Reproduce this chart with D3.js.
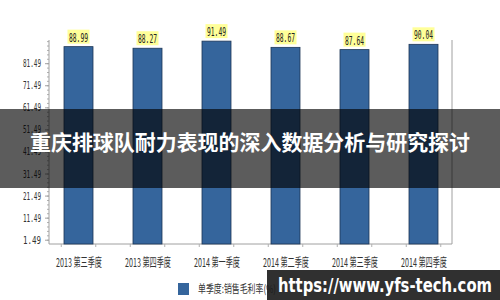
<!DOCTYPE html>
<html>
<head>
<meta charset="utf-8">
<script src="https://cdn.jsdelivr.net/npm/d3@7"></script>
<style>
  body { margin: 0; background: #fff; }
  svg { display: block; }
</style>
</head>
<body>
<div id="chart"></div>
<script>
// data
let quarters = ["2013 第三季度", "2013 第四季度", "2014 第一季度", "2014 第二季度", "2014 第三季度", "2014 第四季度"];
let margins = [88.99, 88.27, 91.49, 88.67, 87.64, 90.04];
let yTicks = [1.49, 11.49, 21.49, 31.49, 41.49, 51.49, 61.49, 71.49, 81.49];
let legendLabel = "单季度:销售毛利率(%)";
let title = "重庆排球队耐力表现的深入数据分析与研究探讨";
let watermark = "https://www.yfs-tech.com";

let svgWidth = 500;
let svgHeight = 300;

let svg = d3.select("#chart")
  .append("svg")
  .attr("width", svgWidth)
  .attr("height", svgHeight);

// scales
let x = d3.scalePoint()
  .domain(quarters)
  .range([44, 458])
  .padding(0.5);

let y = d3.scaleLinear()
  .domain([0, 92])
  .range([243, 40]);

let barWidth = 29;

// right border of plot
svg.append("line")
  .attr("x1", 452).attr("x2", 452)
  .attr("y1", 40).attr("y2", 244)
  .attr("stroke", "#a0a0a0");

// minor ticks on y axis
let yMinor = d3.axisLeft(y)
  .tickValues(d3.range(1.49, 92, 2))
  .tickSize(2)
  .tickFormat("");
svg.append("g")
  .attr("transform", "translate(49,0)")
  .call(yMinor)
  .call(g => g.select(".domain").remove())
  .selectAll("line").attr("stroke", "#b0b0b0");

let yAxis = d3.axisLeft(y)
  .tickValues(yTicks)
  .tickSize(4)
  .tickPadding(4)
  .tickFormat(d3.format(".2f"));

let yg = svg.append("g")
  .attr("transform", "translate(49,0)")
  .call(yAxis);
yg.select(".domain").attr("stroke", "#a0a0a0").attr("d", "M0,40V244");
yg.selectAll(".tick line").attr("stroke", "#a0a0a0");
yg.selectAll(".tick text")
  .attr("font-family", "'DejaVu Sans Mono', monospace")
  .attr("font-size", 11)
  .attr("fill", "#333")
  .attr("textLength", 18)
  .attr("lengthAdjust", "spacingAndGlyphs");

// bottom axis
let xAxis = d3.axisBottom(x)
  .tickSize(0)
  .tickPadding(14);

let xg = svg.append("g")
  .attr("transform", "translate(0,244)")
  .call(xAxis);
xg.select(".domain").attr("stroke", "#a0a0a0").attr("d", "M49,0H452");
xg.selectAll(".tick text")
  .attr("font-family", "'Noto Sans CJK SC', sans-serif")
  .attr("font-size", 12)
  .attr("fill", "#333")
  .attr("textLength", 46)
  .attr("lengthAdjust", "spacingAndGlyphs");

// minor ticks along bottom axis
let step = x.step();
let xMinor = [];
quarters.forEach(q => {
  xMinor.push(x(q) - step / 4, x(q) + step / 4);
});
svg.append("g").selectAll("line")
  .data(xMinor)
  .enter()
  .append("line")
  .attr("x1", d => d).attr("x2", d => d)
  .attr("y1", 244).attr("y2", 247)
  .attr("stroke", "#b0b0b0");

// bars
svg.append("g").selectAll("rect")
  .data(margins)
  .enter()
  .append("rect")
  .attr("x", (d, i) => x(quarters[i]) - barWidth / 2)
  .attr("y", d => y(d))
  .attr("width", barWidth)
  .attr("height", d => y(0) + 1 - y(d))
  .attr("fill", "#35659c")
  .attr("stroke", "#1d3656")
  .attr("stroke-width", 0.8);

// value labels on yellow boxes
let lbl = svg.append("g").selectAll("g")
  .data(margins)
  .enter()
  .append("g")
  .attr("transform", (d, i) => `translate(${x(quarters[i])}, ${y(d) - 9})`);

lbl.append("rect")
  .attr("x", -11).attr("y", -8)
  .attr("width", 22).attr("height", 14)
  .attr("fill", "#ffff99");

lbl.append("text")
  .text(d => d.toFixed(2))
  .attr("text-anchor", "middle")
  .attr("dy", "0.35em")
  .attr("font-family", "'DejaVu Sans Mono', monospace")
  .attr("font-size", 11.5)
  .attr("fill", "#222")
  .attr("textLength", 19)
  .attr("lengthAdjust", "spacingAndGlyphs");

// legend
svg.append("rect")
  .attr("x", 178).attr("y", 283)
  .attr("width", 11).attr("height", 12)
  .attr("fill", "#35659c");

svg.append("text")
  .attr("x", 198).attr("y", 289)
  .attr("dy", "0.35em")
  .attr("font-family", "'Noto Sans CJK SC', sans-serif")
  .attr("font-size", 11)
  .attr("fill", "#333")
  .attr("textLength", 78)
  .attr("lengthAdjust", "spacingAndGlyphs")
  .text(legendLabel);

// dark title banner
svg.append("rect")
  .attr("x", 0).attr("y", 109)
  .attr("width", svgWidth).attr("height", 79)
  .attr("fill", "#000")
  .attr("opacity", 0.64);

svg.append("text")
  .attr("x", 250).attr("y", 143)
  .attr("text-anchor", "middle")
  .attr("dy", "0.35em")
  .attr("font-family", "'Noto Sans CJK SC', sans-serif")
  .attr("font-weight", "bold")
  .attr("font-size", 21)
  .attr("fill", "#fff")
  .attr("textLength", 440)
  .attr("lengthAdjust", "spacingAndGlyphs")
  .text(title);

// watermark box bottom right
svg.append("rect")
  .attr("x", 267).attr("y", 270)
  .attr("width", 233).attr("height", 30)
  .attr("fill", "#1a1a1a")
  .attr("opacity", 0.9);

svg.append("text")
  .attr("x", 278).attr("y", 292)
  .attr("font-family", "'DejaVu Sans', sans-serif")
  .attr("font-weight", "bold")
  .attr("font-size", 19)
  .attr("fill", "#fff")
  .attr("textLength", 214)
  .attr("lengthAdjust", "spacingAndGlyphs")
  .text(watermark);
</script>
</body>
</html>
